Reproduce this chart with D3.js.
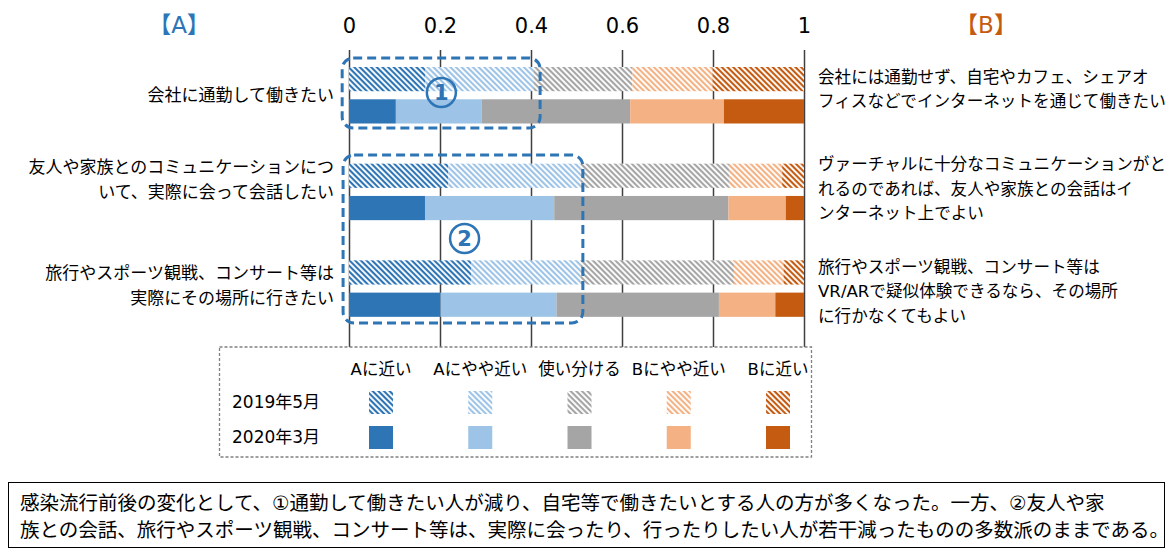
<!DOCTYPE html>
<html lang="ja">
<head>
<meta charset="utf-8">
<script src="https://cdn.jsdelivr.net/npm/d3@7"></script>
<style>
  html, body { margin: 0; padding: 0; background: #fff; }
  svg { display: block; font-family: "DejaVu Sans", "Noto Sans CJK JP", sans-serif; }
</style>
</head>
<body>
<script>
// Questions (rows) and survey waves
const questions = ["q1", "q2", "q3"];
const waves = ["2019年5月", "2020年3月"];
const answers = ["Aに近い", "Aにやや近い", "使い分ける", "Bにやや近い", "Bに近い"];
const answerColors = ["#2E75B6", "#9DC3E6", "#A5A5A5", "#F4B183", "#C55A11"];

// Share of respondents per answer (2019年5月 / 2020年3月)
const q1_2019 = [0.167, 0.238, 0.218, 0.176, 0.201];
const q1_2020 = [0.103, 0.189, 0.326, 0.206, 0.176];
const q2_2019 = [0.218, 0.291, 0.326, 0.117, 0.048];
const q2_2020 = [0.167, 0.284, 0.383, 0.126, 0.040];
const q3_2019 = [0.268, 0.241, 0.337, 0.109, 0.045];
const q3_2020 = [0.201, 0.255, 0.357, 0.124, 0.063];

const tickValues = [0, 0.2, 0.4, 0.6, 0.8, 1];
const tickLabels = ["0", "0.2", "0.4", "0.6", "0.8", "1"];

const leftLabels = [
  ["会社に通勤して働きたい"],
  ["友人や家族とのコミュニケーションにつ", "いて、実際に会って会話したい"],
  ["旅行やスポーツ観戦、コンサート等は", "実際にその場所に行きたい"]
];
const rightLabels = [
  ["会社には通勤せず、自宅やカフェ、シェアオ", "フィスなどでインターネットを通じて働きたい"],
  ["ヴァーチャルに十分なコミュニケーションがと", "れるのであれば、友人や家族との会話はイ", "ンターネット上でよい"],
  ["旅行やスポーツ観戦、コンサート等は", "VR/ARで疑似体験できるなら、その場所", "に行かなくてもよい"]
];
const noteLines = [
  "感染流行前後の変化として、①通勤して働きたい人が減り、自宅等で働きたいとする人の方が多くなった。一方、②友人や家",
  "族との会話、旅行やスポーツ観戦、コンサート等は、実際に会ったり、行ったりしたい人が若干減ったものの多数派のままである。"
];

const series = {
  q1: [q1_2019, q1_2020],
  q2: [q2_2019, q2_2020],
  q3: [q3_2019, q3_2020]
};

const W = 1173, H = 551;
const svg = d3.select("body").append("svg").attr("width", W).attr("height", H);

// Hatch patterns for the 2019 wave
const defs = svg.append("defs");
answerColors.forEach((c, i) => {
  const p = defs.append("pattern")
    .attr("id", "hatch" + i)
    .attr("patternUnits", "userSpaceOnUse")
    .attr("width", 8).attr("height", 4)
    .attr("patternTransform", "rotate(45)");
  p.append("rect").attr("width", 8).attr("height", 4).attr("fill", "#fff");
  p.append("rect").attr("width", 8).attr("height", 2.1).attr("fill", c);
});

const x = d3.scaleLinear().domain([0, 1]).range([349, 804]);
const yGroup = d3.scaleBand().domain(questions).range([57.5, 347.5]);
const yWave = d3.scaleBand().domain(waves).range([9.5, 66]).paddingInner(0.25);

// Axis with gridlines running down to the legend
const axis = d3.axisTop(x)
  .tickValues(tickValues)
  .tickFormat((d, i) => tickLabels[i])
  .tickSizeInner(-(347 - 50))
  .tickSizeOuter(0)
  .tickPadding(17);
const gAxis = svg.append("g").attr("transform", "translate(0,50)").call(axis);
gAxis.select(".domain").remove();
gAxis.selectAll(".tick line").attr("stroke", "#404040").attr("stroke-width", 1.5);
gAxis.selectAll(".tick text").attr("font-size", 21).attr("fill", "#000")
  .attr("font-family", "\"DejaVu Sans\", sans-serif");

// Stacked bars
const stackRows = [];
questions.forEach(q => {
  waves.forEach((w, wi) => {
    let acc = 0;
    series[q][wi].forEach((v, ai) => {
      stackRows.push({ q, w, wi, ai, x0: acc, x1: acc + v });
      acc += v;
    });
  });
});

svg.append("g").selectAll("rect")
  .data(stackRows)
  .join("rect")
  .attr("x", d => x(d.x0))
  .attr("width", d => x(d.x1) - x(d.x0))
  .attr("y", d => yGroup(d.q) + yWave(d.w))
  .attr("height", yWave.bandwidth())
  .attr("fill", d => d.wi === 0 ? `url(#hatch${d.ai})` : answerColors[d.ai]);

// Side labels
const lh = 25;
const barCenter = q => yGroup(q) + yWave.range()[0] + (yWave.range()[1] - yWave.range()[0]) / 2;
const leftNudge = [0, -12, -3];
const rightNudge = [-6, -3, 3];

questions.forEach((q, qi) => {
  const lines = leftLabels[qi];
  const c = barCenter(q) + leftNudge[qi];
  lines.forEach((t, li) => {
    svg.append("text")
      .attr("x", 334)
      .attr("y", c + (li - (lines.length - 1) / 2) * lh)
      .attr("dy", "0.35em")
      .attr("text-anchor", "end")
      .attr("font-size", 17)
      .attr("fill", "#000")
      .text(t);
  });
  const rl = rightLabels[qi];
  const rc = barCenter(q) + rightNudge[qi];
  rl.forEach((t, li) => {
    svg.append("text")
      .attr("x", 818)
      .attr("y", rc + (li - (rl.length - 1) / 2) * 24.5)
      .attr("dy", "0.35em")
      .attr("font-size", 16.6)
      .attr("fill", "#000")
      .text(t);
  });
});

// 【A】 / 【B】 headers
svg.append("text").attr("x", 179).attr("y", 25).attr("dy", "0.35em")
  .attr("text-anchor", "middle").attr("font-size", 23).attr("fill", "#2E75B6").text("【A】");
svg.append("text").attr("x", 986).attr("y", 25).attr("dy", "0.35em")
  .attr("text-anchor", "middle").attr("font-size", 23).attr("fill", "#C55A11").text("【B】");

// Highlight frames
const frameColor = "#2E75B6";
const frames = [
  { x0: -0.015, x1: 0.42, y0: 58, y1: 128 },
  { x0: -0.013, x1: 0.514, y0: 155, y1: 323 }
];
svg.append("g").selectAll("rect")
  .data(frames)
  .join("rect")
  .attr("x", d => x(d.x0))
  .attr("width", d => x(d.x1) - x(d.x0))
  .attr("y", d => d.y0)
  .attr("height", d => d.y1 - d.y0)
  .attr("rx", 11).attr("ry", 11)
  .attr("fill", "none")
  .attr("stroke", frameColor)
  .attr("stroke-width", 3)
  .attr("stroke-dasharray", "9 5");

const marks = [
  { label: "1", v: 0.203, y: 92.5 },
  { label: "2", v: 0.254, y: 238.5 }
];
marks.forEach(m => {
  svg.append("circle").attr("cx", x(m.v)).attr("cy", m.y).attr("r", 14.5)
    .attr("fill", "none").attr("stroke", frameColor).attr("stroke-width", 2.5);
  svg.append("text").attr("x", x(m.v)).attr("y", m.y).attr("dy", "0.36em")
    .attr("text-anchor", "middle").attr("font-size", 21).attr("font-weight", "bold")
    .attr("fill", frameColor).text(m.label);
});

// Legend
const lg = svg.append("g");
lg.append("rect").attr("x", 219.5).attr("y", 347).attr("width", 592).attr("height", 110)
  .attr("fill", "#fff").attr("stroke", "#808080").attr("stroke-width", 1.3)
  .attr("stroke-dasharray", "3 2");
const legendX = d3.scalePoint().domain(answers).range([381, 778]);
const legendRowY = d3.scalePoint().domain(waves).range([402, 437]);
answers.forEach((a, ai) => {
  lg.append("text").attr("x", legendX(a)).attr("y", 369).attr("dy", "0.35em")
    .attr("text-anchor", "middle").attr("font-size", 16.5).attr("fill", "#000").text(a);
  waves.forEach((w, wi) => {
    lg.append("rect")
      .attr("x", legendX(a) - 12).attr("y", legendRowY(w) - 11)
      .attr("width", 24).attr("height", 23)
      .attr("fill", wi === 0 ? `url(#hatch${ai})` : answerColors[ai]);
  });
});
waves.forEach(w => {
  lg.append("text").attr("x", 232).attr("y", legendRowY(w)).attr("dy", "0.35em")
    .attr("font-size", 17).attr("fill", "#000").text(w);
});

// Summary note
svg.append("rect").attr("x", 8.5).attr("y", 482.5).attr("width", 1156).attr("height", 65)
  .attr("fill", "#fff").attr("stroke", "#000").attr("stroke-width", 1);
noteLines.forEach((t, i) => {
  svg.append("text").attr("x", 20).attr("y", 503 + i * 27).attr("dy", "0.35em")
    .attr("font-size", 19.5).attr("fill", "#000").text(t);
});
</script>
</body>
</html>
